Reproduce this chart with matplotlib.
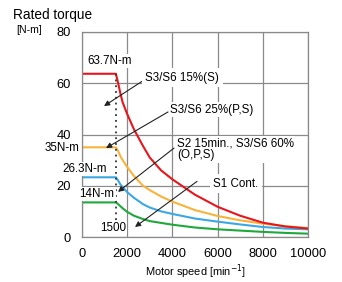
import matplotlib
matplotlib.use("Agg")
import matplotlib.pyplot as plt

plt.rcParams['font.family'] = ['Liberation Sans', 'DejaVu Sans']

# motor speed [min^-1] and torque [N-m]
speed = [0, 1500, 1600, 1700, 1800, 2000, 2300, 2700, 3000, 3500, 4000,
         5000, 6000, 7000, 8000, 9000, 10000]
torque_s3_15 = [63.7, 63.7, 60, 56, 52.5, 48, 42, 35.5, 31, 26, 22.5,
                16.5, 11.8, 8.3, 5.6, 4.1, 3.3]
torque_s3_25 = [35, 35, 33.5, 31.5, 30, 27.3, 23.8, 20, 18.3, 15.8, 13.8,
                10.5, 8.2, 6.5, 5.2, 4.2, 3.5]
torque_s2_60 = [23.3, 23.3, 22, 20.5, 19.5, 17.5, 15.3, 12.8, 11.5, 10, 9,
                7.2, 6.0, 4.9, 3.9, 3.3, 3.0]
torque_s1 = [13.5, 13.5, 12.8, 12, 11.2, 9.8, 8.3, 7, 6.2, 5.5, 4.8,
             3.7, 3.0, 2.5, 2.0, 1.6, 1.3]

base_speed = 1500
x_ticks = [0, 2000, 4000, 6000, 8000, 10000]
y_ticks = [0, 20, 40, 60, 80]

grid_col = '#8a8a8a'
fs = 8.4
box = dict(boxstyle='square,pad=0.12', fc='white', ec='none')
box_big = dict(boxstyle='square,pad=0.3', fc='white', ec='none')

fig = plt.figure(figsize=(3.42, 2.82), dpi=100)
ax = fig.add_axes([82 / 342, 45 / 282, 226 / 342, 205 / 282])

ax.plot(speed, torque_s1, color='#1fa83c', lw=1.5, zorder=2)
ax.plot(speed, torque_s2_60, color='#3ba8e2', lw=1.5, zorder=2)
ax.plot(speed, torque_s3_25, color='#f8b33a', lw=1.5, zorder=2)
ax.plot(speed, torque_s3_15, color='#e8161c', lw=1.5, zorder=2)

ax.plot([base_speed, base_speed], [6.5, torque_s3_15[1]], color='#333333',
        lw=1.3, ls=(0, (1, 2.2)), zorder=2)

ax.set_xlim(0, 10000)
ax.set_ylim(0, 80)
ax.set_xticks(x_ticks)
ax.set_yticks(y_ticks)
ax.tick_params(length=0, labelsize=9.3, colors='black')
ax.tick_params(axis='y', pad=8)
ax.tick_params(axis='x', pad=8)
ax.grid(True, color=grid_col, lw=0.9)
ax.set_axisbelow(True)
for s in ax.spines.values():
    s.set_color(grid_col)
    s.set_linewidth(0.9)

ax.set_xlabel('Motor speed [min$^{-1}$]', fontsize=7.9, labelpad=2)

fig.text(13 / 342, 1 - 15 / 282, 'Rated torque', fontsize=9.8, va='center')
fig.text(16 / 342, 1 - 30 / 282, '[N-m]', fontsize=7.6, va='center')

# value labels
ax.text(1217, 68.7, '63.7N-m', fontsize=fs, ha='center', va='center', bbox=box)
ax.text(-130, 34.7, '35N-m', fontsize=fs, ha='right', va='center', bbox=box)
ax.text(133, 26.5, '26.3N-m', fontsize=fs, ha='center', va='center', bbox=box)
ax.text(664, 16.8, '14N-m', fontsize=fs, ha='center', va='center', bbox=box)
ax.text(1372, 3.5, '1500', fontsize=fs, ha='center', va='center', bbox=box)

# curve names with arrows
arrow = dict(arrowstyle='-|>', color='#222222', lw=0.8, mutation_scale=8,
             shrinkA=0, shrinkB=0)
ax.annotate('', xy=(974, 51.1), xytext=(2876, 62.0), arrowprops=arrow)
ax.annotate('', xy=(1062, 34.7), xytext=(3806, 48.8), arrowprops=arrow)
ax.annotate('', xy=(1593, 17.6), xytext=(4071, 34.7), arrowprops=arrow)
ax.annotate('', xy=(2345, 3.9), xytext=(5089, 21.7), arrowprops=arrow)

ax.text(2800, 62.2, 'S3/S6 15%(S)', fontsize=fs, va='center', bbox=box_big)
ax.text(3894, 49.6, 'S3/S6 25%(P,S)', fontsize=fs, va='center', bbox=box)
ax.text(4204, 34.2, 'S2 15min., S3/S6 60%\n(O,P,S)', fontsize=fs,
        va='center', linespacing=1.0, bbox=box)
ax.text(5797, 20.7, 'S1 Cont.', fontsize=fs, va='center', bbox=box_big)

fig.savefig('out.png', dpi=100)
